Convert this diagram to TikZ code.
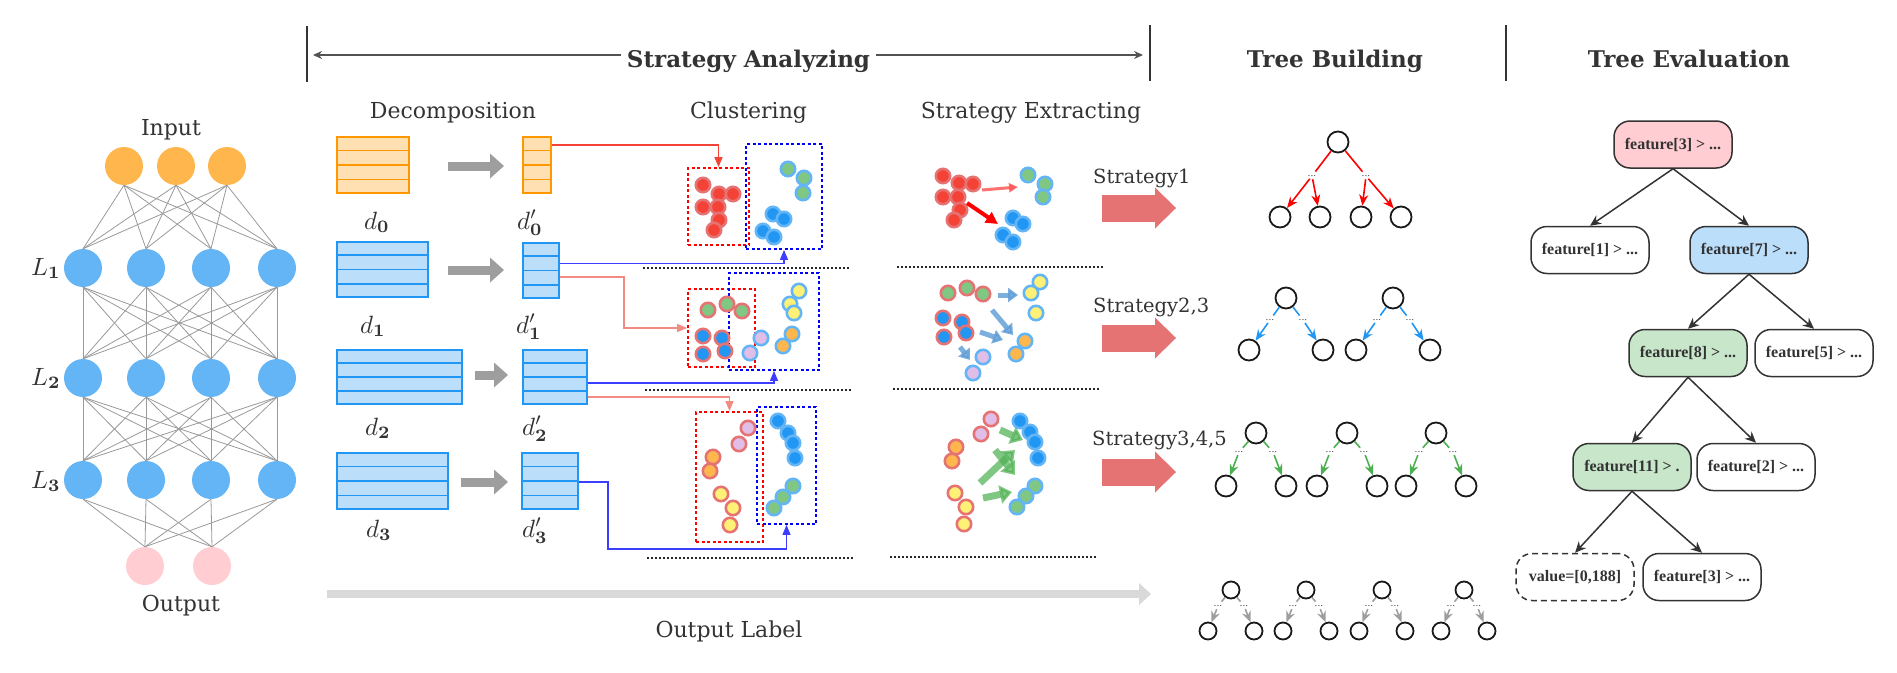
\documentclass[tikz,border=0pt]{standalone}
\usepackage{amsmath}
\usepackage{amsfonts}
\usepackage{graphicx}
\usepackage[no-math]{fontspec}
\setmainfont{DejaVu Serif}
\newfontfamily\evalfont{Liberation Serif}
\usetikzlibrary{arrows,arrows.meta,calc,positioning}
\newcommand\mlab[1]{\scalebox{2.5}{$#1$}}
\definecolor{txt}{HTML}{333333}
\definecolor{nninput}{HTML}{FFB74D}
\definecolor{nnhidden}{HTML}{64B5F6}
\definecolor{nnoutput}{HTML}{FFCDD2}
\definecolor{boxorange}{HTML}{FF9800}
\definecolor{fillorange}{HTML}{FFE0B2}
\definecolor{boxblue}{HTML}{2196F3}
\definecolor{fillblue}{HTML}{BBDEFB}
\definecolor{ptred}{HTML}{F44336}
\definecolor{ptgreen}{HTML}{81C784}
\definecolor{ptblue}{HTML}{2196F3}
\definecolor{ptyellow}{HTML}{FFF176}
\definecolor{ptorange}{HTML}{FFB74D}
\definecolor{ptlilac}{HTML}{E1BEE7}
\definecolor{rimred}{HTML}{E57373}
\definecolor{rimblue}{HTML}{64B5F6}
\definecolor{connred}{HTML}{F44336}
\definecolor{connsalmon}{HTML}{F28B82}
\definecolor{connblue}{HTML}{3D3DFF}
\definecolor{fatred}{HTML}{E57373}
\definecolor{exblue}{HTML}{5B9BD5}
\definecolor{exgreen}{HTML}{4CAF50}
\definecolor{tred}{HTML}{FF0000}
\definecolor{tblue}{HTML}{2196F3}
\definecolor{tgreen}{HTML}{4CAF50}
\definecolor{tgray}{HTML}{9E9E9E}
\definecolor{evalpink}{HTML}{FFCDD2}
\definecolor{evalblue}{HTML}{BBDEFB}
\definecolor{evalgreen}{HTML}{C8E6C9}
\tikzset{
    >=stealth',
    hdtext/.style={font=\fontsize{23}{28}\selectfont\bfseries, text=txt, inner sep=0pt, anchor=base},
    subtext/.style={font=\fontsize{22}{26}\selectfont, text=txt, inner sep=0pt, anchor=base},
    mlabel/.style={font=\fontsize{10}{12}\selectfont, text=txt, inner sep=0pt, anchor=base west},
    hdbar/.style={draw=txt, line width=1.5pt},
    neuron/.style={circle, fill=#1, minimum size=38pt, inner sep=0pt},
    nnline/.style={draw=black!40, line width=0.8pt},
    dbox/.style={rectangle, draw=box#1, fill=fill#1, line width=1.8pt, inner sep=0pt},
    rowline/.style={draw=box#1, line width=1.8pt},
    grayarr/.style={draw=black!38, line width=9pt, -{Triangle[length=14pt,width=25pt,line width=0pt]}},
    cbox/.style={rectangle, draw=#1, line width=1.8pt, dash pattern=on 3pt off 2.5pt, inner sep=0pt},
    pt/.style 2 args={circle, fill=#1, draw=#2, line width=2.6pt, minimum size=14.4pt, inner sep=0pt},
    conn/.style={draw=#1, line width=1.2pt, -{Triangle[length=10pt,width=8pt]}},
    sepline/.style={draw=black!85, line width=1.6pt, dash pattern=on 2pt off 2pt},
    fatarr/.style={draw=#1, line width=27pt, -{Triangle[length=21pt,width=41pt,line width=0pt]}},
    exarr/.style={draw=#1, opacity=.8},
    tnode/.style={circle, draw=black!90, line width=1.8pt, minimum size=21pt, inner sep=0pt},
    snode/.style={circle, draw=black!90, line width=1.8pt, minimum size=17pt, inner sep=0pt},
    tdots/.style={font=\fontsize{9}{9}\selectfont, text=txt, inner sep=0.5pt},
    tline/.style={draw=#1, line width=1.6pt, shorten >=4pt},
    tarrow/.style={draw=#1, line width=1.6pt, shorten <=2pt, -{Stealth[length=11pt,width=9pt]}},
    enode/.style={rectangle, rounded corners=16pt, draw=txt, line width=1.5pt,
           minimum width=118pt, minimum height=47pt, inner sep=0pt,
           font=\evalfont\bfseries\fontsize{16}{18}\selectfont, text=txt},
    evarrow/.style={draw=txt, line width=1.5pt, -{Stealth[length=11pt,width=10pt]}}
}
\begin{document}
\begin{tikzpicture}[x=1pt, y=-1pt]
\useasboundingbox (0,0) rectangle (1897,672);

% headers
\draw[hdbar] (307,26) -- (307,82);
\draw[hdbar] (1150,25) -- (1150,81);
\draw[hdbar] (1506,25) -- (1506,81);
\coordinate (sal) at (313,55);
\coordinate (sar) at (1143,55);
\draw[draw=txt!85, line width=1.5pt, {Stealth[length=9pt,width=8pt]}-{Stealth[length=9pt,width=8pt]}] (sal) -- (sar);
\node[hdtext, fill=white, inner xsep=6pt] (hdsa) at (748.5,67) {Strategy Analyzing};
\node[hdtext] (hdtb) at (1335,67) {Tree Building};
\node[hdtext] (hdte) at (1689,67) {Tree Evaluation};
\node[subtext] (hddc) at (453,118) {Decomposition};
\node[subtext] (hdcl) at (748.5,118) {Clustering};
\node[subtext] (hdse) at (1031,118) {Strategy Extracting};

% neural network
\node[subtext] (lbin) at (171,135) {Input};
\node[subtext] (lbout) at (181,611) {Output};
\foreach \x [count=\i] in {124,176,227}
    \node[neuron=nninput] (in\i) at (\x,166) {};
\foreach \y [count=\j] in {268,378,480}
    \foreach \x [count=\i] in {83,146,211,277}
        \node[neuron=nnhidden] (h\j\i) at (\x,\y) {};
\foreach \x [count=\i] in {145,212}
    \node[neuron=nnoutput] (out\i) at (\x,566) {};
\foreach \a in {1,2,3}
    \foreach \b in {1,2,3,4}
        \draw[nnline] (in\a.south) -- (h1\b.north);
\foreach \a in {1,2,3,4}
    \foreach \b in {1,2,3,4} {
        \draw[nnline] (h1\a.south) -- (h2\b.north);
        \draw[nnline] (h2\a.south) -- (h3\b.north);
    }
\foreach \a in {1,2,3,4}
    \foreach \b in {1,2}
        \draw[nnline] (h3\a.south) -- (out\b.north);
\node[mlabel] (lbl1) at (31,275) {\mlab{L_{\mathbf{1}}}};
\node[mlabel] (lbl2) at (31,385) {\mlab{L_{\mathbf{2}}}};
\node[mlabel] (lbl3) at (31,488) {\mlab{L_{\mathbf{3}}}};

% decomposition
\node[dbox=orange, minimum width=72pt, minimum height=56pt] (d0) at (373,165) {};
\node[dbox=orange, minimum width=28pt, minimum height=56pt] (d0p) at (537,165) {};
\node[dbox=blue, minimum width=91pt, minimum height=55pt] (d1) at (382.5,269.5) {};
\node[dbox=blue, minimum width=36pt, minimum height=55pt] (d1p) at (541,270.5) {};
\node[dbox=blue, minimum width=125pt, minimum height=54pt] (d2) at (399.5,377) {};
\node[dbox=blue, minimum width=64pt, minimum height=54pt] (d2p) at (555,377) {};
\node[dbox=blue, minimum width=111pt, minimum height=56pt] (d3) at (392.5,481) {};
\node[dbox=blue, minimum width=56pt, minimum height=56pt] (d3p) at (550,481) {};
\foreach \n/\c in {d0/orange,d0p/orange,d1/blue,d1p/blue,d2/blue,d2p/blue,d3/blue,d3p/blue}
    \foreach \k in {1,2,3}
        \draw[rowline=\c] ($(\n.north west)!\k/4!(\n.south west)$) -- ($(\n.north east)!\k/4!(\n.south east)$);
\foreach \xa/\xb/\y [count=\i] in {448/504/166,448/504/270,475/508/375,461/508/482} {
    \coordinate (ga\i) at (\xa,\y);
    \coordinate (gb\i) at (\xb,\y);
    \draw[grayarr] (ga\i) -- (gb\i);
}
\node[mlabel] (ld0) at (364,229) {\mlab{d_{\mathbf{0}}}};
\node[mlabel] (ld1) at (360,333) {\mlab{d_{\mathbf{1}}}};
\node[mlabel] (ld2) at (365,435) {\mlab{d_{\mathbf{2}}}};
\node[mlabel] (ld3) at (366,537) {\mlab{d_{\mathbf{3}}}};
\node[mlabel] (ld0p) at (517,229) {\mlab{d^{\prime}_{\mathbf{0}}}};
\node[mlabel] (ld1p) at (516,333) {\mlab{d^{\prime}_{\mathbf{1}}}};
\node[mlabel] (ld2p) at (522,435) {\mlab{d^{\prime}_{\mathbf{2}}}};
\node[mlabel] (ld3p) at (522,537) {\mlab{d^{\prime}_{\mathbf{3}}}};

% clustering
\node[cbox=red, minimum width=61pt, minimum height=77pt] (rx0) at (718.5,206.5) {};
\node[cbox=blue, minimum width=76pt, minimum height=105pt] (bx0) at (784,196.5) {};
\node[cbox=red, minimum width=67pt, minimum height=78pt] (rx1) at (721.5,328) {};
\node[cbox=blue, minimum width=90pt, minimum height=97pt] (bx1) at (774,321.5) {};
\node[cbox=red, minimum width=67pt, minimum height=130pt] (rx2) at (729.5,477) {};
\node[cbox=blue, minimum width=59pt, minimum height=117pt] (bx2) at (786.5,465.5) {};
\foreach \x/\y/\c/\r [count=\i] in {
    703/185/ptred/rimred, 719/194/ptred/rimred, 733/194/ptred/rimred, 703/207/ptred/rimred,
    718/207/ptred/rimred, 719/220/ptred/rimred, 714/230/ptred/rimred,
    788/169/ptgreen/rimblue, 804/178/ptgreen/rimblue, 803/193/ptgreen/rimblue,
    773/214/ptblue/rimblue, 784/219/ptblue/rimblue, 763/231/ptblue/rimblue, 774/237/ptblue/rimblue,
    708/310/ptgreen/rimred, 727/304/ptgreen/rimred, 742/311/ptgreen/rimred,
    703/336/ptblue/rimred, 722/338/ptblue/rimred, 725/351/ptblue/rimred, 703/354/ptblue/rimred,
    761/338/ptlilac/rimblue, 750/353/ptlilac/rimblue,
    799/291/ptyellow/rimblue, 790/304/ptyellow/rimblue, 794/313/ptyellow/rimblue,
    792/334/ptorange/rimblue, 783/346/ptorange/rimblue,
    748/428/ptlilac/rimred, 739/444/ptlilac/rimred, 713/457/ptorange/rimred, 710/471/ptorange/rimred,
    721/494/ptyellow/rimred, 733/508/ptyellow/rimred, 730/525/ptyellow/rimred,
    778/421/ptblue/rimblue, 788/433/ptblue/rimblue, 793/443/ptblue/rimblue, 795/458/ptblue/rimblue,
    793/486/ptgreen/rimblue, 783/497/ptgreen/rimblue, 774/508/ptgreen/rimblue}
    \node[pt={\c}{\r}] (cp\i) at (\x,\y) {};

% connectors from the reduced data
\draw[conn=connred] ([yshift=20pt]d0p.east) -| (rx0.north);
\draw[conn=connblue] ([yshift=7pt]d1p.east) -| (bx0.south);
\draw[conn=connsalmon] ([yshift=-6.5pt]d1p.east) -- ++(64,0) |- (rx1.west);
\draw[conn=connblue] ([yshift=-6pt]d2p.east) -| (bx1.south);
\draw[conn=connsalmon] ([yshift=-20pt]d2p.east) -| (rx2.north);
\draw[conn=connblue] ([yshift=-1pt]d3p.east) -- ++(29,0) |- ($(bx2.south)+(0,24)$) -- (bx2.south);

% separators
\draw[sepline] (643,268) -- (849,268);
\draw[sepline] (897,267) -- (1103,267);
\draw[sepline] (645,390) -- (851,390);
\draw[sepline] (893,389) -- (1099,389);
\draw[sepline] (647,558) -- (853,558);
\draw[sepline] (890,557) -- (1096,557);

% strategy extracting
\foreach \xa/\ya/\xb/\yb [count=\i] in {998/295/1018/295, 992/310/1013/335, 980/332/1003/340, 960/347/970/360} {
    \coordinate (ebs\i) at (\xa,\ya);
    \coordinate (ebt\i) at (\xb,\yb);
    \draw[exarr=exblue, line width=5pt, -{Triangle[length=10pt,width=14pt]}] (ebs\i) -- (ebt\i);
}
\foreach \xa/\ya/\xb/\yb [count=\i] in {1000/430/1023/440, 980/483/1015/450, 995/450/1015/475, 983/498/1012/492} {
    \coordinate (egs\i) at (\xa,\ya);
    \coordinate (egt\i) at (\xb,\yb);
    \draw[exarr=exgreen, opacity=.7, line width=7pt, -{Triangle[length=12pt,width=18pt]}] (egs\i) -- (egt\i);
}
\foreach \x/\y/\c/\r [count=\i] in {
    943/176/ptred/rimred, 959/183/ptred/rimred, 973/184/ptred/rimred, 943/197/ptred/rimred,
    958/197/ptred/rimred, 960/210/ptred/rimred, 954/220/ptred/rimred,
    1028/175/ptgreen/rimblue, 1045/184/ptgreen/rimblue, 1043/197/ptgreen/rimblue,
    1013/218/ptblue/rimblue, 1023/224/ptblue/rimblue, 1003/235/ptblue/rimblue, 1013/242/ptblue/rimblue,
    948/293/ptgreen/rimred, 967/288/ptgreen/rimred, 983/294/ptgreen/rimred,
    943/318/ptblue/rimred, 962/322/ptblue/rimred, 966/333/ptblue/rimred, 944/337/ptblue/rimred,
    1040/282/ptyellow/rimblue, 1031/293/ptyellow/rimblue, 1036/313/ptyellow/rimblue,
    1025/341/ptorange/rimblue, 1016/354/ptorange/rimblue,
    983/357/ptlilac/rimblue, 973/373/ptlilac/rimblue,
    991/419/ptlilac/rimred, 981/434/ptlilac/rimred, 956/447/ptorange/rimred, 952/461/ptorange/rimred,
    955/493/ptyellow/rimred, 966/507/ptyellow/rimred, 964/524/ptyellow/rimred,
    1020/421/ptblue/rimblue, 1030/432/ptblue/rimblue, 1035/442/ptblue/rimblue, 1038/458/ptblue/rimblue,
    1035/486/ptgreen/rimblue, 1026/496/ptgreen/rimblue, 1017/507/ptgreen/rimblue}
    \node[pt={\c}{\r}] (sp\i) at (\x,\y) {};
\coordinate (ers1) at (982,190);
\coordinate (ert1) at (1018,187);
\draw[exarr=tred!70, line width=3pt, -{Triangle[length=9pt,width=9pt]}] (ers1) -- (ert1);
\coordinate (ers2) at (967,203);
\coordinate (ert2) at (998,224);
\draw[draw=tred, line width=4pt, -{Triangle[length=12pt,width=12pt]}] (ers2) -- (ert2);

% strategies
\node[subtext, anchor=base west, font=\fontsize{19.5}{22}\selectfont] (st1) at (1093,183) {Strategy1};
\node[subtext, anchor=base west, font=\fontsize{19.5}{22}\selectfont] (st2) at (1093,312) {Strategy2,3};
\node[subtext, anchor=base west, font=\fontsize{19.5}{22}\selectfont] (st3) at (1092,445) {Strategy3,4,5};
\foreach \y [count=\i] in {208,338,472} {
    \coordinate (sa\i) at (1102,\y);
    \coordinate (sb\i) at (1176,\y);
    \draw[fatarr=fatred] (sa\i) -- (sb\i);
}

% tree building
\node[tnode] (tb0) at (1338,142) {};
\node[tdots] (tb0a) at (1312,176) {...};
\node[tdots] (tb0b) at (1366,176) {...};
\foreach \n/\x in {tb0w/1280,tb0x/1320,tb0y/1361,tb0z/1401}
    \node[tnode] (\n) at (\x,217) {};
\draw[tline=tred] (tb0) -- (tb0a);
\draw[tline=tred] (tb0) -- (tb0b);
\draw[tarrow=tred] (tb0a) -- (tb0w);
\draw[tarrow=tred] (tb0a) -- (tb0x);
\draw[tarrow=tred] (tb0b) -- (tb0y);
\draw[tarrow=tred] (tb0b) -- (tb0z);
\foreach \x [count=\i] in {1286,1393} {
    \node[tnode] (tb1r\i) at (\x,298) {};
    \node[tdots] (tb1a\i) at (\x-16,320) {...};
    \node[tdots] (tb1b\i) at (\x+17,320) {...};
    \node[tnode] (tb1l\i) at (\x-37,350) {};
    \node[tnode] (tb1m\i) at (\x+37,350) {};
    \draw[tline=tblue] (tb1r\i) -- (tb1a\i);
    \draw[tline=tblue] (tb1r\i) -- (tb1b\i);
    \draw[tarrow=tblue] (tb1a\i) -- (tb1l\i);
    \draw[tarrow=tblue] (tb1b\i) -- (tb1m\i);
}
\foreach \x [count=\i] in {1256,1347,1436} {
    \node[tnode] (tb2r\i) at (\x,433) {};
    \node[tdots] (tb2a\i) at (\x-17,452) {...};
    \node[tdots] (tb2b\i) at (\x+17,452) {...};
    \node[tnode] (tb2l\i) at (\x-30,486) {};
    \node[tnode] (tb2m\i) at (\x+30,486) {};
    \draw[tline=tgreen] (tb2r\i) -- (tb2a\i);
    \draw[tline=tgreen] (tb2r\i) -- (tb2b\i);
    \draw[tarrow=tgreen] (tb2a\i) -- (tb2l\i);
    \draw[tarrow=tgreen] (tb2b\i) -- (tb2m\i);
}
\foreach \x [count=\i] in {1231,1306,1382,1464} {
    \node[snode] (tb3r\i) at (\x,590) {};
    \node[tdots] (tb3a\i) at (\x-13,606) {...};
    \node[tdots] (tb3b\i) at (\x+13,606) {...};
    \node[snode] (tb3l\i) at (\x-23,631) {};
    \node[snode] (tb3m\i) at (\x+23,631) {};
    \draw[tline=tgray] (tb3r\i) -- (tb3a\i);
    \draw[tline=tgray] (tb3r\i) -- (tb3b\i);
    \draw[tarrow=tgray] (tb3a\i) -- (tb3l\i);
    \draw[tarrow=tgray] (tb3b\i) -- (tb3m\i);
}

% output label
\coordinate (ola) at (327,594);
\coordinate (olb) at (1151,594);
\draw[draw=black!15, line width=8pt, -{Triangle[length=12pt,width=22pt,line width=0pt]}] (ola) -- (olb);
\node[subtext] (lbol) at (729,637) {Output Label};

% tree evaluation
\node[enode, fill=evalpink] (ev0) at (1673,144.5) {feature[3] > ...};
\node[enode] (ev1) at (1590,250) {feature[1] > ...};
\node[enode, fill=evalblue] (ev2) at (1749,250) {feature[7] > ...};
\node[enode, fill=evalgreen] (ev3) at (1688,353) {feature[8] > ...};
\node[enode] (ev4) at (1814,353) {feature[5] > ...};
\node[enode, fill=evalgreen] (ev5) at (1632,467) {feature[11] > .};
\node[enode] (ev6) at (1756,467) {feature[2] > ...};
\node[enode, dash pattern=on 6pt off 4pt] (ev7) at (1575,577) {value=[0,188]};
\node[enode] (ev8) at (1702,577) {feature[3] > ...};
\draw[evarrow] (ev0.south) -- (ev1.north);
\draw[evarrow] (ev0.south) -- (ev2.north);
\draw[evarrow] (ev2.south) -- (ev3.north);
\draw[evarrow] (ev2.south) -- (ev4.north);
\draw[evarrow] (ev3.south) -- (ev5.north);
\draw[evarrow] (ev3.south) -- (ev6.north);
\draw[evarrow] (ev5.south) -- (ev7.north);
\draw[evarrow] (ev5.south) -- (ev8.north);
\end{tikzpicture}
\end{document}
